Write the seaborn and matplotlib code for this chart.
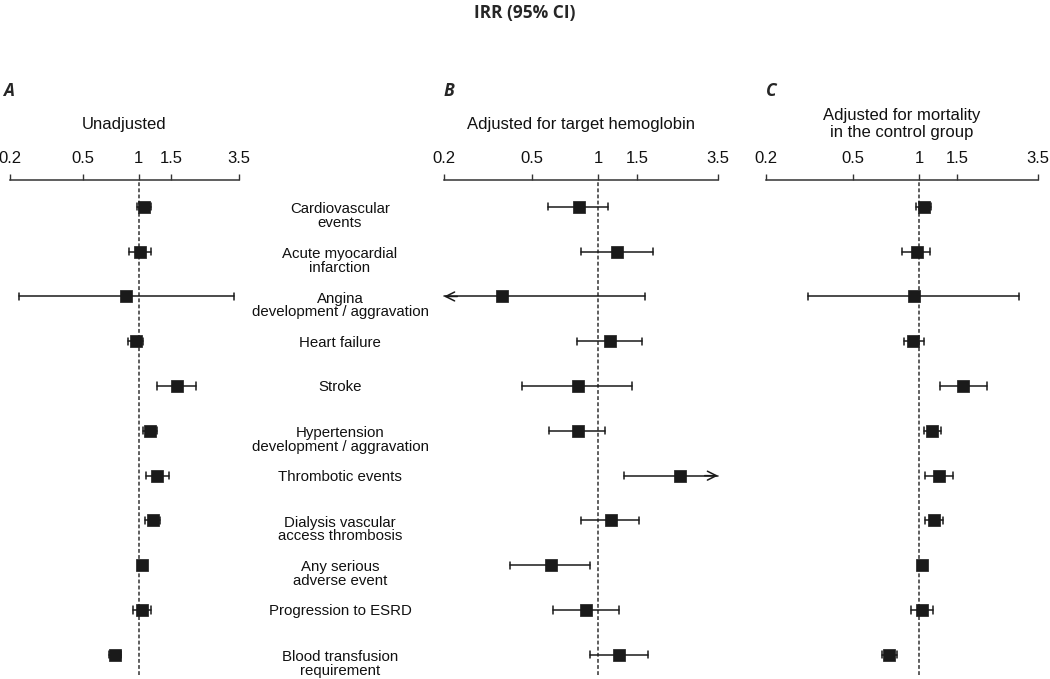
import numpy as np
import pandas as pd
import seaborn as sns
import matplotlib.pyplot as plt
from matplotlib import transforms

outcomes = [
    "Cardiovascular\nevents",
    "Acute myocardial\ninfarction",
    "Angina\ndevelopment / aggravation",
    "Heart failure",
    "Stroke",
    "Hypertension\ndevelopment / aggravation",
    "Thrombotic events",
    "Dialysis vascular\naccess thrombosis",
    "Any serious\nadverse event",
    "Progression to ESRD",
    "Blood transfusion\nrequirement",
]

# panel A - unadjusted
irr_a = [1.07, 1.01, 0.85, 0.96, 1.62, 1.15, 1.26, 1.19, 1.04, 1.04, 0.74]
lo_a = [0.98, 0.88, 0.224, 0.87, 1.26, 1.05, 1.09, 1.08, 1.02, 0.93, 0.69]
hi_a = [1.17, 1.17, 3.30, 1.06, 2.05, 1.25, 1.46, 1.31, 1.06, 1.17, 0.80]

# panel B - adjusted for target hemoglobin
irr_b = [0.82, 1.22, 0.366, 1.13, 0.81, 0.81, 2.35, 1.14, 0.61, 0.88, 1.245]
lo_b = [0.595, 0.84, 0.15, 0.80, 0.454, 0.60, 1.31, 0.84, 0.40, 0.625, 0.92]
hi_b = [1.11, 1.78, 1.63, 1.59, 1.43, 1.08, 5.0, 1.53, 0.92, 1.24, 1.685]

# panel C - adjusted for mortality in the control group
irr_c = [1.054, 0.976, 0.95, 0.94, 1.59, 1.15, 1.24, 1.17, 1.03, 1.035, 0.73]
lo_c = [0.965, 0.84, 0.31, 0.85, 1.25, 1.05, 1.07, 1.065, 1.01, 0.92, 0.68]
hi_c = [1.14, 1.12, 2.87, 1.05, 2.04, 1.26, 1.43, 1.29, 1.05, 1.16, 0.79]

ticks = [0.2, 0.5, 1, 1.5, 3.5]
tick_labels = ["0.2", "0.5", "1", "1.5", "3.5"]
xmin, xmax = 0.2, 3.5

panels = [
    ("A", "Unadjusted", irr_a, lo_a, hi_a),
    ("B", "Adjusted for target hemoglobin", irr_b, lo_b, hi_b),
    ("C", "Adjusted for mortality\nin the control group", irr_c, lo_c, hi_c),
]

sns.set_theme(style="white")
plt.rcParams['font.family'] = ['Liberation Sans', 'DejaVu Sans']

fig = plt.figure(figsize=(10.5, 6.79), dpi=100)
W, H = 1050, 679
ax_px = [(10, 239), (444, 718), (766, 1038)]
top_px, bot_px = 180, 675
ink = "#1a1a1a"

axes = []
for (letter, title, irr, lo, hi), (x0, x1) in zip(panels, ax_px):
    ax = fig.add_axes([x0 / W, 1 - bot_px / H, (x1 - x0) / W, (bot_px - top_px) / H])
    axes.append(ax)
    df = pd.DataFrame({"outcome": outcomes, "irr": irr, "lo": lo, "hi": hi})
    df["row"] = np.arange(len(df))
    ax.set_xscale("log")
    ax.set_xlim(xmin, xmax)
    ax.set_ylim(len(df) - 0.55, -0.6)

    ax.axvline(1, color="#333333", lw=1.1, ls=(0, (2.5, 1.5)), zorder=1)

    for _, r in df.iterrows():
        l = max(r.lo, xmin)
        h = min(r.hi, xmax)
        ax.plot([l, h], [r.row, r.row], color=ink, lw=1.1, clip_on=False, zorder=2)
        if r.lo >= xmin:
            ax.plot([l, l], [r.row - 0.08, r.row + 0.08], color=ink, lw=1.1, clip_on=False, zorder=2)
        else:
            ax.annotate("", xy=(l, r.row), xytext=(l * 1.15, r.row),
                        arrowprops=dict(arrowstyle="->", color=ink, lw=1.1,
                                        mutation_scale=16, shrinkA=0, shrinkB=0),
                        annotation_clip=False)
        if r.hi <= xmax:
            ax.plot([h, h], [r.row - 0.08, r.row + 0.08], color=ink, lw=1.1, clip_on=False, zorder=2)
        else:
            ax.annotate("", xy=(h, r.row), xytext=(h / 1.15, r.row),
                        arrowprops=dict(arrowstyle="->", color=ink, lw=1.1,
                                        mutation_scale=16, shrinkA=0, shrinkB=0),
                        annotation_clip=False)

    sns.scatterplot(data=df, x="irr", y="row", ax=ax, marker="s", s=75,
                    color=ink, edgecolor=ink, linewidth=0.5, zorder=3, clip_on=False)

    ax.set_xticks(ticks)
    ax.set_xticklabels(tick_labels)
    ax.xaxis.set_minor_locator(plt.NullLocator())
    ax.xaxis.tick_top()
    ax.tick_params(axis="x", direction="out", length=4, width=1, color="#333333",
                   labelsize=12, pad=6, top=True, bottom=False, labelcolor="#111111")
    ax.set_yticks([])
    for s in ["left", "right", "bottom"]:
        ax.spines[s].set_visible(False)
    ax.spines["top"].set_color("#333333")
    ax.spines["top"].set_linewidth(1.1)
    ax.set_xlabel("")
    ax.set_ylabel("")

    cx = (x0 + x1) / 2 / W
    fig.text(cx, 1 - 124 / H, title, ha="center", va="center", fontsize=12,
             linespacing=1.2, color="#111111")

# panel letters
for letter, xp in zip(["A", "B", "C"], [3, 444, 766]):
    fig.text(xp / W, 1 - 91 / H, letter, ha="left", va="center", fontsize=12.5,
             fontweight="bold", style="italic", family=["Open Sans", "DejaVu Sans"])

fig.text(0.5, 1 - 13 / H, "IRR (95% CI)", ha="center", va="center", fontsize=12.5,
         fontweight="bold", family=["Open Sans", "DejaVu Sans"])

# outcome labels between panels A and B
trans = transforms.blended_transform_factory(fig.transFigure, axes[0].transData)
for i, lab in enumerate(outcomes):
    nl = lab.count("\n")
    axes[0].text(340 / W, i + 0.03 + 0.17 * nl, lab, transform=trans, ha="center", va="center",
                 fontsize=10.8, linespacing=0.98, color="#111111")

fig.savefig("out.png", dpi=100)
